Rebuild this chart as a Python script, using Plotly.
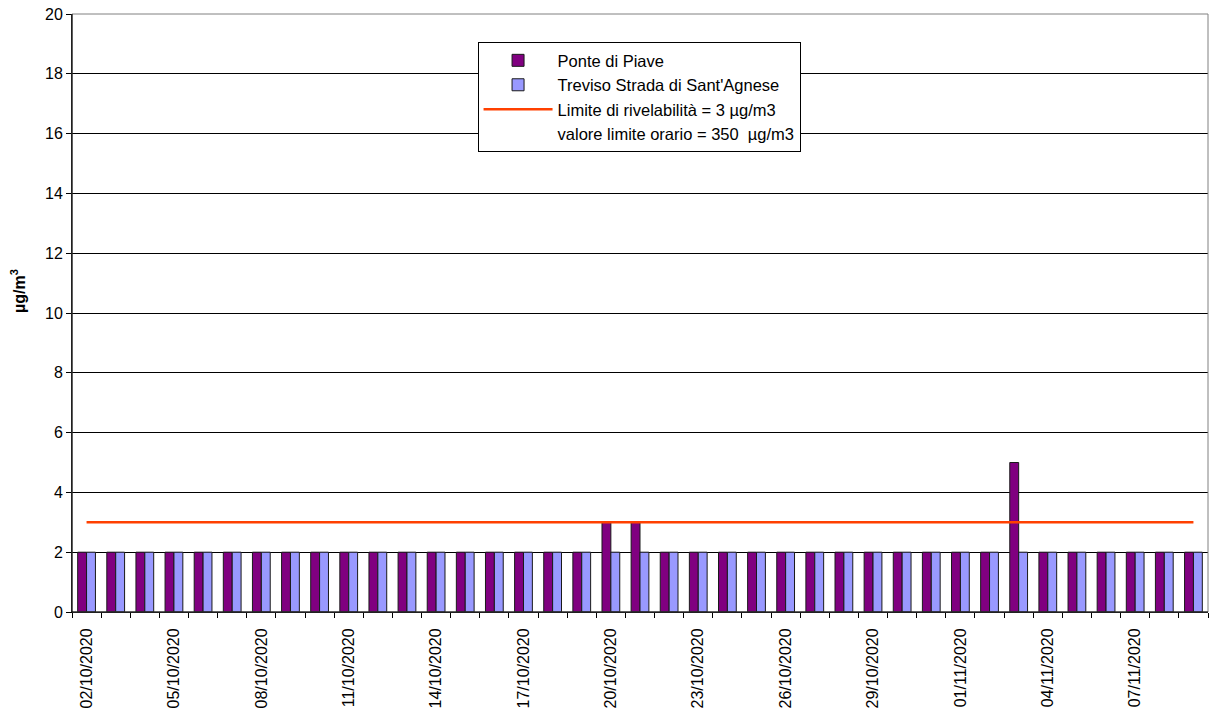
import plotly.graph_objects as go
import pandas as pd

dates = ["02/10/2020", "03/10/2020", "04/10/2020", "05/10/2020", "06/10/2020", "07/10/2020",
         "08/10/2020", "09/10/2020", "10/10/2020", "11/10/2020", "12/10/2020", "13/10/2020",
         "14/10/2020", "15/10/2020", "16/10/2020", "17/10/2020", "18/10/2020", "19/10/2020",
         "20/10/2020", "21/10/2020", "22/10/2020", "23/10/2020", "24/10/2020", "25/10/2020",
         "26/10/2020", "27/10/2020", "28/10/2020", "29/10/2020", "30/10/2020", "31/10/2020",
         "01/11/2020", "02/11/2020", "03/11/2020", "04/11/2020", "05/11/2020", "06/11/2020",
         "07/11/2020", "08/11/2020", "09/11/2020"]

ponte_di_piave = [2, 2, 2, 2, 2, 2, 2, 2, 2, 2, 2, 2, 2, 2, 2, 2, 2, 2,
                  3, 3, 2, 2, 2, 2, 2, 2, 2, 2, 2, 2, 2, 2, 5, 2, 2, 2, 2, 2, 2]
treviso = [2] * 39
limite_rivelabilita = [3] * 39
valore_limite_orario = [350] * 39

tick_labels = dates[::3]

x = pd.to_datetime(dates, format="%d/%m/%Y")
tickvals = x[::3]

fig = go.Figure()
fig.add_trace(go.Bar(x=x, y=ponte_di_piave, name="Ponte di Piave",
                     marker=dict(color="#800080", line=dict(color="#1a1a1a", width=1))))
fig.add_trace(go.Bar(x=x, y=treviso, name="Treviso Strada di Sant'Agnese",
                     marker=dict(color="#9999FF", line=dict(color="#1a1a1a", width=1))))
fig.add_trace(go.Scatter(x=x, y=limite_rivelabilita, mode="lines",
                         name="Limite di rivelabilità = 3 µg/m3",
                         line=dict(color="#FF4000", width=2.5)))
fig.add_trace(go.Scatter(x=x, y=valore_limite_orario, mode="lines",
                         name="valore limite orario = 350  µg/m3",
                         line=dict(color="rgba(0,0,0,0)", width=2)))

fig.update_layout(
    width=1209, height=710,
    margin=dict(l=72, r=1, t=14, b=98),
    paper_bgcolor="white", plot_bgcolor="white",
    barmode="group", bargap=0.39, bargroupgap=0,
    font=dict(family="Liberation Sans, Arial, sans-serif", color="#000000", size=16),
    legend=dict(x=0.357, y=0.953, xanchor="left", yanchor="top",
                bgcolor="white", bordercolor="#000000", borderwidth=1,
                font=dict(size=16.5), traceorder="normal",
                itemwidth=69),
    showlegend=True,
)

fig.update_xaxes(
    type="date",
    range=[x[0] - pd.Timedelta(hours=12), x[-1] + pd.Timedelta(hours=12)],
    tickmode="array", tickvals=tickvals, ticktext=tick_labels,
    tickangle=-90, ticks="outside", ticklen=9, tickcolor="rgba(0,0,0,0)",
    showline=True, linecolor="#000000", linewidth=1,
    showgrid=False, zeroline=False,
    tickfont=dict(size=16),
    minor=dict(ticks="outside", ticklen=5, tickcolor="#000000",
               tick0=x[0] - pd.Timedelta(hours=12), dtick=86400000, showgrid=False),
)
fig.update_yaxes(
    range=[0, 20], dtick=2, tick0=0,
    ticks="outside", ticklen=5, tickcolor="#000000",
    showline=True, linecolor="#000000", linewidth=1,
    showgrid=True, gridcolor="#000000", gridwidth=1,
    zeroline=False,
    tickfont=dict(size=16),
)

fig.add_annotation(text="<b>µg/m<sup>3</sup></b>", xref="paper", yref="paper",
                   x=-0.0475, y=0.537, xanchor="center", yanchor="middle",
                   textangle=-90, showarrow=False, font=dict(size=16))

fig.add_shape(type="rect", xref="paper", yref="paper", x0=0, x1=1, y0=0, y1=1,
              line=dict(color="#808080", width=1), layer="above")
fig.add_shape(type="line", xref="paper", yref="paper", x0=0, x1=0, y0=0, y1=1,
              line=dict(color="#000000", width=1), layer="above")
fig.add_shape(type="line", xref="paper", yref="paper", x0=0, x1=1, y0=0, y1=0,
              line=dict(color="#000000", width=1), layer="above")

fig.write_html("out.html")
